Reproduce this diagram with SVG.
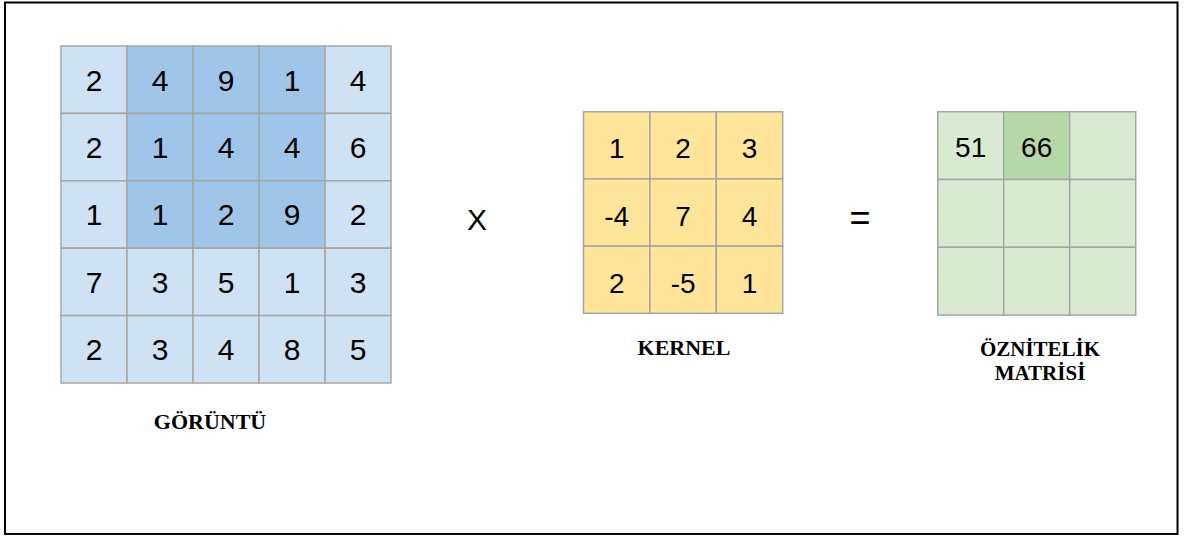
<svg xmlns="http://www.w3.org/2000/svg" width="1187" height="537" viewBox="0 0 1187 537">
<style>
.c{stroke:#a6a6a6;stroke-width:1.5}
.lb{fill:#cfe2f3}.db{fill:#9fc5e8}.y{fill:#ffe599}.lg{fill:#d9ead3}.dg{fill:#b6d7a8}
.n{font-family:"Liberation Sans",Arial,sans-serif;fill:#000;text-anchor:middle}
.n1{font-size:30px}.n2{font-size:28px}.n3{font-size:28px}
.t{font-family:"Liberation Serif","Times New Roman",serif;font-weight:bold;font-size:22px;text-anchor:middle;fill:#000}
.t2{font-size:21px}
</style>
<rect x="0" y="0" width="1187" height="537" fill="#fff"/>
<rect x="5" y="2.5" width="1172.5" height="531.5" fill="none" stroke="#000" stroke-width="2"/>
<g id="goruntu">
<g class="c">
<rect class="lb" x="61" y="46" width="66" height="67.4"/><rect class="db" x="127" y="46" width="66" height="67.4"/><rect class="db" x="193" y="46" width="66" height="67.4"/><rect class="db" x="259" y="46" width="66" height="67.4"/><rect class="lb" x="325" y="46" width="66" height="67.4"/>
<rect class="lb" x="61" y="113.4" width="66" height="67.4"/><rect class="db" x="127" y="113.4" width="66" height="67.4"/><rect class="db" x="193" y="113.4" width="66" height="67.4"/><rect class="db" x="259" y="113.4" width="66" height="67.4"/><rect class="lb" x="325" y="113.4" width="66" height="67.4"/>
<rect class="lb" x="61" y="180.8" width="66" height="67.4"/><rect class="db" x="127" y="180.8" width="66" height="67.4"/><rect class="db" x="193" y="180.8" width="66" height="67.4"/><rect class="db" x="259" y="180.8" width="66" height="67.4"/><rect class="lb" x="325" y="180.8" width="66" height="67.4"/>
<rect class="lb" x="61" y="248.2" width="66" height="67.4"/><rect class="lb" x="127" y="248.2" width="66" height="67.4"/><rect class="lb" x="193" y="248.2" width="66" height="67.4"/><rect class="lb" x="259" y="248.2" width="66" height="67.4"/><rect class="lb" x="325" y="248.2" width="66" height="67.4"/>
<rect class="lb" x="61" y="315.6" width="66" height="67.4"/><rect class="lb" x="127" y="315.6" width="66" height="67.4"/><rect class="lb" x="193" y="315.6" width="66" height="67.4"/><rect class="lb" x="259" y="315.6" width="66" height="67.4"/><rect class="lb" x="325" y="315.6" width="66" height="67.4"/>
</g>
<g class="n n1">
<text x="94" y="90.5">2</text><text x="160" y="90.5">4</text><text x="226" y="90.5">9</text><text x="292" y="90.5">1</text><text x="358" y="90.5">4</text>
<text x="94" y="157.9">2</text><text x="160" y="157.9">1</text><text x="226" y="157.9">4</text><text x="292" y="157.9">4</text><text x="358" y="157.9">6</text>
<text x="94" y="225.3">1</text><text x="160" y="225.3">1</text><text x="226" y="225.3">2</text><text x="292" y="225.3">9</text><text x="358" y="225.3">2</text>
<text x="94" y="292.7">7</text><text x="160" y="292.7">3</text><text x="226" y="292.7">5</text><text x="292" y="292.7">1</text><text x="358" y="292.7">3</text>
<text x="94" y="360.1">2</text><text x="160" y="360.1">3</text><text x="226" y="360.1">4</text><text x="292" y="360.1">8</text><text x="358" y="360.1">5</text>
</g>
<text class="t" x="210" y="429">GÖRÜNTÜ</text>
</g>
<g id="op-x"><text class="n" x="477" y="230" font-size="30">X</text></g>
<g id="kernel">
<g class="c y">
<rect x="583.5" y="111.7" width="66.4" height="67.2"/><rect x="649.9" y="111.7" width="66.4" height="67.2"/><rect x="716.3" y="111.7" width="66.4" height="67.2"/>
<rect x="583.5" y="178.9" width="66.4" height="67.2"/><rect x="649.9" y="178.9" width="66.4" height="67.2"/><rect x="716.3" y="178.9" width="66.4" height="67.2"/>
<rect x="583.5" y="246.1" width="66.4" height="67.2"/><rect x="649.9" y="246.1" width="66.4" height="67.2"/><rect x="716.3" y="246.1" width="66.4" height="67.2"/>
</g>
<g class="n n2">
<text x="616.7" y="158.3">1</text><text x="683.1" y="158.3">2</text><text x="749.5" y="158.3">3</text>
<text x="616.7" y="225.5">-4</text><text x="683.1" y="225.5">7</text><text x="749.5" y="225.5">4</text>
<text x="616.7" y="292.7">2</text><text x="683.1" y="292.7">-5</text><text x="749.5" y="292.7">1</text>
</g>
<text class="t" x="684" y="355">KERNEL</text>
</g>
<g id="op-eq"><text class="n" x="860" y="230" font-size="36">=</text></g>
<g id="oznitelik">
<g class="c">
<rect class="lg" x="937.7" y="111.7" width="66" height="67.8"/><rect class="dg" x="1003.7" y="111.7" width="66" height="67.8"/><rect class="lg" x="1069.7" y="111.7" width="66" height="67.8"/>
<rect class="lg" x="937.7" y="179.5" width="66" height="67.8"/><rect class="lg" x="1003.7" y="179.5" width="66" height="67.8"/><rect class="lg" x="1069.7" y="179.5" width="66" height="67.8"/>
<rect class="lg" x="937.7" y="247.3" width="66" height="67.8"/><rect class="lg" x="1003.7" y="247.3" width="66" height="67.8"/><rect class="lg" x="1069.7" y="247.3" width="66" height="67.8"/>
</g>
<g class="n n3">
<text x="970.7" y="156.5">51</text><text x="1036.7" y="156.5">66</text>
</g>
<text class="t t2" x="1040" y="355.5">ÖZNİTELİK</text>
<text class="t t2" x="1040" y="379.5">MATRİSİ</text>
</g>
</svg>
